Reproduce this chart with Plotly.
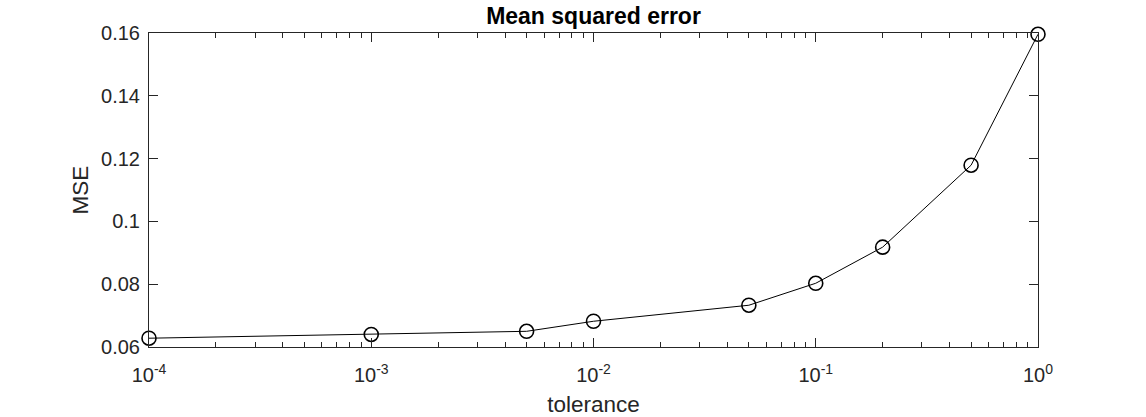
import plotly.graph_objects as go

tolerance = [1e-4, 1e-3, 5e-3, 1e-2, 5e-2, 1e-1, 2e-1, 5e-1, 1.0]
mse = [0.0628, 0.0640, 0.0650, 0.0682, 0.0733, 0.0803, 0.0918, 0.1179, 0.1596]
x_tickvals = [1e-4, 1e-3, 1e-2, 1e-1, 1.0]
x_ticktext = ["10<sup>-4</sup>", "10<sup>-3</sup>", "10<sup>-2</sup>", "10<sup>-1</sup>", "10<sup>0</sup>"]
x_minor_vals = [m * d for d in [1e-4, 1e-3, 1e-2, 1e-1] for m in range(2, 10)]
y_tickvals = [0.06, 0.08, 0.1, 0.12, 0.14, 0.16]
y_ticktext = ["0.06", "0.08", "0.1", "0.12", "0.14", "0.16"]

axcol = "#262626"
fnt = "Liberation Sans, Arial, sans-serif"

fig = go.Figure()
fig.add_trace(go.Scatter(
    x=tolerance, y=mse, mode="lines+markers",
    line=dict(color="black", width=1),
    marker=dict(symbol="circle-open", size=14, color="black", line=dict(width=1.6)),
    cliponaxis=False, showlegend=False,
))

fig.update_layout(
    width=1146, height=417,
    margin=dict(l=149, r=108, t=33, b=70),
    paper_bgcolor="white", plot_bgcolor="white",
    font=dict(family=fnt, color=axcol, size=20),
    title=dict(text="<b>Mean squared error</b>", x=(149 + 1038) / 2 / 1146, xanchor="center",
               y=1 - 16 / 417, yanchor="middle", font=dict(size=23, color="black", family=fnt)),
    xaxis=dict(
        type="log", range=[-4, 0], tickvals=x_tickvals, ticktext=x_ticktext,
        ticks="inside", ticklen=9, tickwidth=1, tickcolor=axcol,
        showline=True, linecolor=axcol, linewidth=1, mirror="ticks",
        showgrid=False, zeroline=False, automargin=False,
        minor=dict(tickvals=x_minor_vals, ticks="inside", ticklen=5, tickcolor=axcol, showgrid=False),
        title=dict(text="tolerance", font=dict(size=22.5, color=axcol), standoff=13),
        tickfont=dict(size=20, color=axcol),
        ticklabelstandoff=10,
    ),
    yaxis=dict(
        range=[0.06, 0.16], tickvals=y_tickvals, ticktext=y_ticktext,
        ticks="inside", ticklen=9, tickwidth=1, tickcolor=axcol,
        showline=True, linecolor=axcol, linewidth=1, mirror="ticks",
        showgrid=False, zeroline=False, automargin=False,
        title=dict(text="MSE", font=dict(size=22.5, color=axcol), standoff=6),
        tickfont=dict(size=20, color=axcol),
        ticklabelstandoff=4,
    ),
)

fig.write_html("out.html")
